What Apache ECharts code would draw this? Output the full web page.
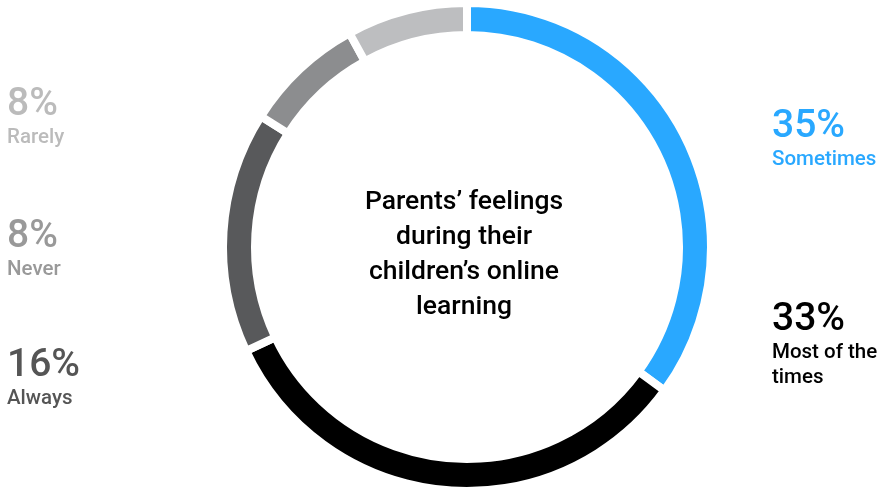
<!DOCTYPE html>
<html><head>
<meta charset="UTF-8">
<title>Parents' feelings</title>
<script src="https://cdn.jsdelivr.net/npm/echarts@6/dist/echarts.min.js"></script>
<style>
html,body{margin:0;padding:0;background:#fff;}
#main{width:883px;height:488px;}
</style>
</head>
<body>
<div id="main"></div>
<script>
// answers, clockwise from the top
var names = ['Sometimes', 'Most of the\ntimes', 'Always', 'Never', 'Rarely'];
var values = [35, 33, 16, 8, 8];
var colors = ['#29a8ff', '#000000', '#58595b', '#8c8d8f', '#bdbec0'];
var textColors = ['#29a8ff', '#000000', '#555555', '#999999', '#bbbbbb'];

var chart = echarts.init(document.getElementById('main'));

var seriesData = [];
for (var i = 0; i < names.length; i++) {
    seriesData.push({
        name: names[i],
        value: values[i],
        itemStyle: {color: colors[i]},
        label: {rich: {
            p: {fontFamily: 'Roboto', fontWeight: 500, fontSize: 39, lineHeight: 39, color: textColors[i]},
            n: {fontFamily: 'Roboto', fontWeight: 500, fontSize: 20.5, lineHeight: 25, color: textColors[i]}
        }}
    });
}

//label blocks: right column for the first two, left column for the rest
var labelAt = [[772, 108], [772, 301], [7, 347], [7, 218], [7, 86]];

chart.setOption({
    animation: false,
    graphic: [{
        type: 'text',
        x: 464,
        y: 255,
        style: {
            text: "Parents’ feelings\nduring their\nchildren’s online\nlearning",
            font: '500 26.5px Roboto',
            fill: '#000',
            align: 'center',
            verticalAlign: 'middle',
            lineHeight: 35
        }
    }],
    series: [{
        type: 'pie',
        center: [467, 247],
        radius: [212, 244],
        startAngle: 90,
        clockwise: true,
        silent: true,
        itemStyle: {borderColor: '#fff', borderWidth: 8},
        label: {
            show: true,
            formatter: '{p|{c}%}\n{n|{b}}',
            align: 'left'
        },
        labelLine: {show: false},
        labelLayout: function (params) {
            var p = labelAt[params.dataIndex];
            return {x: p[0], y: p[1], align: 'left', verticalAlign: 'top'};
        },
        data: seriesData
    }]
});
</script>
</body></html>
